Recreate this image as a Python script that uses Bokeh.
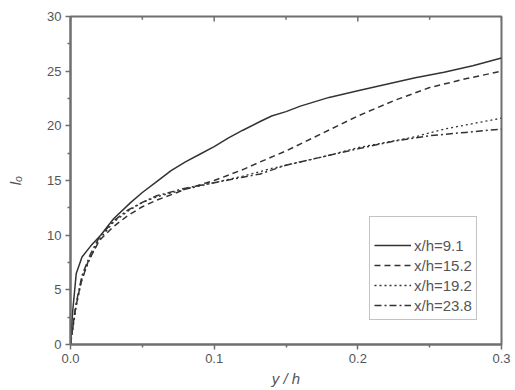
from bokeh.plotting import figure
from bokeh.models import Legend, LegendItem, Range1d, FixedTicker
from bokeh.embed import file_html
from bokeh.resources import INLINE

# data
x_91 = [0, 0.0015, 0.004, 0.008, 0.014, 0.021, 0.03, 0.042, 0.05, 0.06, 0.07, 0.08, 0.09, 0.1,
        0.11, 0.12, 0.132, 0.14, 0.15, 0.16, 0.18, 0.2, 0.22, 0.24, 0.26, 0.28, 0.3]
y_91 = [0, 3.0, 6.5, 8.0, 9.0, 10.0, 11.5, 13.0, 13.9, 14.9, 15.9, 16.7, 17.4, 18.1,
        18.9, 19.6, 20.4, 20.9, 21.3, 21.8, 22.6, 23.2, 23.8, 24.4, 24.9, 25.5, 26.2]

x_152 = [0, 0.003, 0.007, 0.012, 0.02, 0.03, 0.04, 0.05, 0.06, 0.08, 0.1, 0.12, 0.132, 0.15,
         0.175, 0.2, 0.225, 0.25, 0.275, 0.3]
y_152 = [0, 3.0, 5.5, 7.5, 9.5, 10.8, 11.8, 12.6, 13.2, 14.2, 15.0, 16.0, 16.7, 17.7,
         19.3, 20.9, 22.3, 23.5, 24.3, 25.0]

x_192 = [0, 0.004, 0.008, 0.014, 0.02, 0.03, 0.04, 0.05, 0.06, 0.08, 0.1, 0.12, 0.14, 0.16,
         0.18, 0.2, 0.22, 0.24, 0.26, 0.28, 0.3]
y_192 = [0, 3.5, 6.0, 8.0, 9.6, 11.2, 12.2, 13.0, 13.5, 14.2, 14.8, 15.4, 16.1, 16.7,
         17.3, 18.0, 18.5, 19.0, 19.7, 20.2, 20.7]

x_238 = [0, 0.004, 0.008, 0.014, 0.02, 0.03, 0.04, 0.05, 0.06, 0.08, 0.1, 0.12, 0.132, 0.15,
         0.17, 0.2, 0.225, 0.25, 0.275, 0.3]
y_238 = [0, 3.8, 6.3, 8.3, 9.8, 11.3, 12.3, 13.0, 13.6, 14.3, 14.8, 15.3, 15.6, 16.4,
         17.0, 17.9, 18.6, 19.1, 19.4, 19.7]

labels = ["x/h=9.1", "x/h=15.2", "x/h=19.2", "x/h=23.8"]
x_ticks = [0.0, 0.1, 0.2, 0.3]
x_minor = [0.05, 0.15, 0.25]
x_tick_labels = ["0.0", "0.1", "0.2", "0.3"]
y_ticks = [0, 5, 10, 15, 20, 25, 30]
y_minor = [2.5, 7.5, 12.5, 17.5, 22.5, 27.5]

AX = "#6f6f6f"
TXT = "#555555"
LC = "#333333"
FONT = "Liberation Sans"

p = figure(width=515, height=390, output_backend="svg", toolbar_location=None,
           x_range=Range1d(0, 0.3), y_range=Range1d(0, 30),
           min_border_left=70, min_border_right=14, min_border_top=16, min_border_bottom=46,
           x_axis_label="y / h", y_axis_label="lₒ")
p.outline_line_color = AX
p.outline_line_width = 2
p.xgrid.visible = False
p.ygrid.visible = False
p.background_fill_color = "white"
p.border_fill_color = "white"

r1 = p.line(x_91, y_91, line_color=LC, line_width=1.5)
r2 = p.line(x_152, y_152, line_color=LC, line_width=1.5, line_dash="6 4")
r3 = p.line(x_192, y_192, line_color=LC, line_width=1.3, line_dash="2 3")
r4 = p.line(x_238, y_238, line_color=LC, line_width=1.5, line_dash="7 3 2 3")

# inward ticks on the top edge of the frame
p.segment(x0=x_ticks, y0=[30] * len(x_ticks), x1=x_ticks, y1=[29.55] * len(x_ticks),
          line_color=AX, line_width=1.5)
p.segment(x0=x_minor, y0=[30] * len(x_minor), x1=x_minor, y1=[29.7] * len(x_minor),
          line_color=AX, line_width=1.5)

def style(ax):
    ax.axis_line_color = AX
    ax.axis_line_width = 2
    ax.major_tick_line_color = AX
    ax.minor_tick_line_color = AX
    ax.major_tick_line_width = 1.5
    ax.minor_tick_line_width = 1.5
    ax.major_tick_in = 0
    ax.major_tick_out = 5
    ax.minor_tick_in = 0
    ax.minor_tick_out = 3
    ax.major_label_text_color = TXT
    ax.major_label_text_font = FONT
    ax.major_label_text_font_size = "13px"
    ax.axis_label_text_color = TXT
    ax.axis_label_text_font = FONT
    ax.axis_label_text_font_style = "italic"
    ax.axis_label_text_font_size = "15px"

xa = p.xaxis[0]
style(xa)
xa.ticker = FixedTicker(ticks=x_ticks, minor_ticks=x_minor)
xa.major_label_overrides = {t: s for t, s in zip(x_ticks, x_tick_labels)}
xa.major_label_standoff = 4
xa.axis_label_standoff = 4

ya = p.yaxis[0]
style(ya)
ya.ticker = FixedTicker(ticks=y_ticks, minor_ticks=y_minor)
ya.major_label_standoff = 4
ya.axis_label_standoff = 20

legend = Legend(items=[LegendItem(label=labels[0], renderers=[r1]),
                       LegendItem(label=labels[1], renderers=[r2]),
                       LegendItem(label=labels[2], renderers=[r3]),
                       LegendItem(label=labels[3], renderers=[r4])],
                location=(299, 24), title=" ")
legend.title_text_font_size = "10px"
legend.title_standoff = 3
legend.border_line_color = "#888888"
legend.border_line_width = 1.5
legend.padding = 4
legend.spacing = 0
legend.margin = 0
legend.glyph_width = 37
legend.glyph_height = 20
legend.label_height = 20
legend.label_standoff = 3
legend.label_text_font = FONT
legend.label_text_font_size = "15px"
legend.label_text_color = TXT
legend.background_fill_alpha = 1
p.add_layout(legend)

open("out.html", "w").write(file_html(p, INLINE))
